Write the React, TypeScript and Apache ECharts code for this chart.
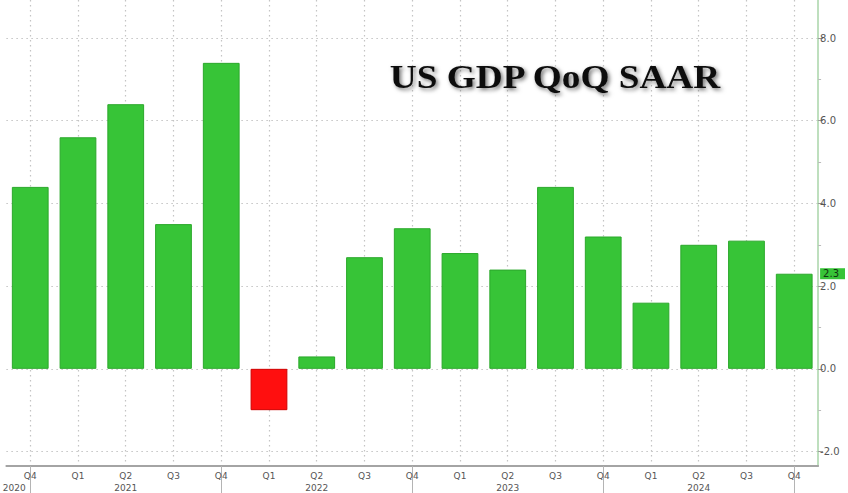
import React, { useEffect, useRef } from 'react';
import * as echarts from 'echarts';

const quarters = ['Q4', 'Q1', 'Q2', 'Q3', 'Q4', 'Q1', 'Q2', 'Q3', 'Q4', 'Q1', 'Q2', 'Q3', 'Q4', 'Q1', 'Q2', 'Q3', 'Q4'];
const years = ['2020', '2021', '2021', '2021', '2021', '2022', '2022', '2022', '2022', '2023', '2023', '2023', '2023', '2024', '2024', '2024', '2024'];
const categories = quarters.map((q, i) => `${years[i]} ${q}`);
const gdpValues = [4.4, 5.6, 6.4, 3.5, 7.4, -1.0, 0.3, 2.7, 3.4, 2.8, 2.4, 4.4, 3.2, 1.6, 3.0, 3.1, 2.3];
const yTickValues = [-2, 0, 2, 4, 6, 8];
const yMinorTickValues = [-1, 1, 3, 5, 7];
const titleText = 'US GDP QoQ SAAR';

const GREEN = '#37c437';
const RED = '#ff0f0f';

export default function App() {
  const ref = useRef<HTMLDivElement>(null);

  useEffect(() => {
    if (!ref.current) return;
    const chart = echarts.init(ref.current, null, { renderer: 'svg' });
    const lastValue = gdpValues[gdpValues.length - 1];
    const yMin = -2.35;
    const yMax = 8.92;
    const catIdx = categories.map((_, i) => i);
    const dotted = { color: '#c4c4c4', type: [1.5, 3.5], width: 1.2 };

    chart.setOption({
      animation: false,
      backgroundColor: '#ffffff',
      grid: { left: 2, right: 27, top: 0, bottom: 27, containLabel: false },
      xAxis: [
        {
          type: 'category',
          data: categories,
          position: 'bottom',
          boundaryGap: true,
          axisLine: { show: true, onZero: false, lineStyle: { color: '#a4a4a4', width: 2 } },
          axisTick: {
            show: true,
            alignWithLabel: true,
            length: 27,
            interval: (i: number) => quarters[i] === 'Q4',
            lineStyle: { color: '#b4b4b4', width: 1 },
          },
          splitLine: { show: false },
          axisLabel: {
            interval: 0,
            margin: 4,
            formatter: (value: string, index: number) => {
              const parts = value.split(' ');
              const y = parts[0];
              const q = parts[1];
              if (index === 0) return `{q|${q}}\n{y0|${y}}`;
              if (q === 'Q2') return `{q|${q}}\n{y|${y}}`;
              return `{q|${q}}`;
            },
            rich: {
              q: { fontSize: 9, color: '#555', fontFamily: 'DejaVu Sans', lineHeight: 12 },
              y: { fontSize: 9, color: '#555', fontFamily: 'DejaVu Sans', lineHeight: 12 },
              y0: { fontSize: 9, color: '#555', fontFamily: 'DejaVu Sans', lineHeight: 12, padding: [0, 32, 0, 0] },
            },
          },
        },
        {
          type: 'value',
          position: 'bottom',
          min: -0.5,
          max: categories.length - 0.5,
          show: true,
          axisLine: { show: false, onZero: false },
          axisLabel: { show: false },
          axisTick: { show: false, customValues: catIdx },
          splitLine: { show: true, lineStyle: dotted },
        },
      ],
      yAxis: [
        {
          type: 'value',
          position: 'right',
          min: yMin,
          max: yMax,
          axisLine: { show: true, onZero: false, lineStyle: { color: '#a9d4a9', width: 1.5 } },
          axisTick: { show: true, inside: false, length: 5, customValues: yTickValues, lineStyle: { color: '#999' } },
          axisLabel: {
            show: true,
            customValues: yTickValues,
            margin: 2,
            fontSize: 10,
            color: '#555',
            fontFamily: 'DejaVu Sans',
            formatter: (v: number) => v.toFixed(1),
          },
          splitLine: { show: true, lineStyle: dotted },
        },
        {
          type: 'value',
          position: 'right',
          min: yMin,
          max: yMax,
          axisLine: { show: false, onZero: false },
          axisTick: { show: true, length: 3, customValues: yMinorTickValues, lineStyle: { color: '#bbb' } },
          axisLabel: { show: false },
          splitLine: { show: false },
        },
        {
          type: 'value',
          position: 'right',
          min: yMin,
          max: yMax,
          axisLine: { show: false, onZero: false },
          axisTick: { show: false, customValues: [lastValue] },
          axisLabel: {
            show: true,
            customValues: [lastValue],
            margin: 2,
            fontSize: 10,
            color: '#113311',
            fontFamily: 'DejaVu Sans',
            backgroundColor: GREEN,
            padding: [1, 6, 0, 3],
            formatter: (v: number) => v.toFixed(1),
          },
          splitLine: { show: false },
        },
      ],
      series: [
        {
          type: 'bar',
          xAxisIndex: 0,
          yAxisIndex: 0,
          barCategoryGap: '23%',
          data: gdpValues.map((v) => ({
            value: v,
            itemStyle: {
              color: v >= 0 ? GREEN : RED,
              borderColor: v >= 0 ? '#2ba82b' : '#d00000',
              borderWidth: 1,
            },
          })),
        },
      ],
      graphic: [
        {
          type: 'text',
          x: 555,
          y: 77,
          scaleX: 1.13,
          z: 10,
          style: {
            text: titleText,
            fontFamily: '"Liberation Serif", "Times New Roman", serif',
            fontWeight: 'bold',
            fontSize: 33,
            fill: '#111',
            textAlign: 'center',
            textVerticalAlign: 'middle',
            textShadowColor: 'rgba(0,0,0,0.55)',
            textShadowBlur: 4,
            textShadowOffsetX: 2,
            textShadowOffsetY: 2,
          },
        },
      ],
    });

    return () => chart.dispose();
  }, []);

  return (
    <div
      ref={ref}
      style={{ position: 'fixed', left: 0, top: 0, width: 848, height: 493 }}
    />
  );
}
